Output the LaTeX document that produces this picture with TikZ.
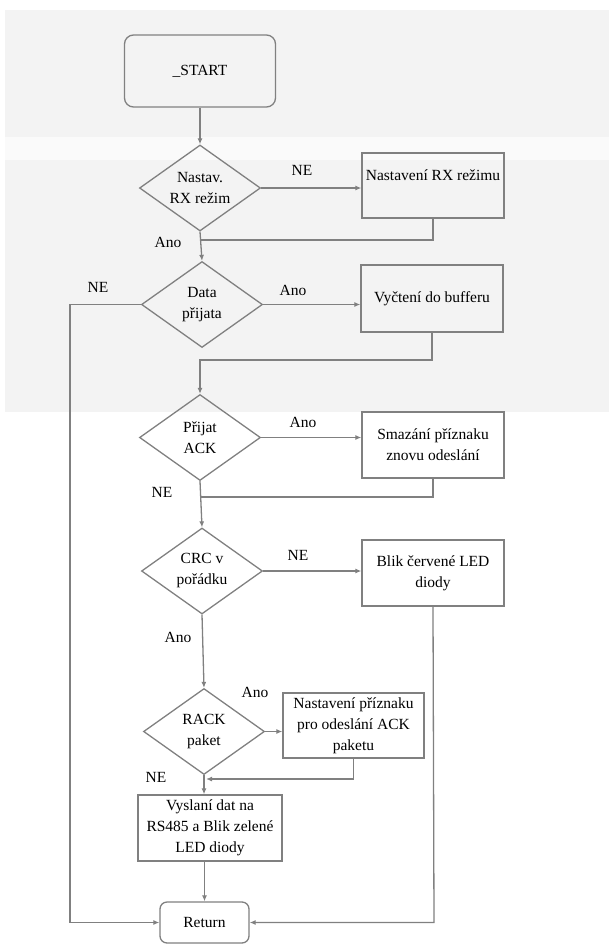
\documentclass[tikz,border=0pt]{standalone}
\usepackage{fontspec}
\setmainfont{Liberation Serif}
\usetikzlibrary{arrows.meta,shapes.geometric}
\definecolor{linegray}{RGB}{128,128,128}
\definecolor{bandgray}{RGB}{243,243,243}
\definecolor{stripgray}{RGB}{250,250,250}
\tikzset{
  txt/.style={font=\fontsize{15.5}{21}\selectfont, text=black},
  startbox/.style={txt, draw=linegray, line width=1.3pt, rounded corners=9pt, minimum width=151pt, minimum height=72pt},
  decision/.style={txt, draw=linegray, line width=1.3pt, diamond, aspect=1.4, inner sep=0pt, minimum width=121pt, minimum height=86pt, align=center},
  process/.style={txt, draw=linegray, line width=1.3pt, minimum width=142pt, minimum height=66pt, inner sep=0.5pt, align=center},
  lbl/.style={txt},
  flow/.style={draw=linegray, line width=1.3pt},
  arr/.style={flow, -{Latex[length=6pt,width=5pt]}}
}

\begin{document}
\begin{tikzpicture}[x=1pt,y=-1pt]
		%%%%% BACKGROUND %%%%%
		\useasboundingbox (0,0) rectangle (609,945);
		\fill[bandgray] (5,10) rectangle (609,412);
		\fill[stripgray] (5,137) rectangle (609,160);
		
		%%%%% NODES %%%%%
		\node[startbox] (start) at (200,71) {\_START};
		
		\node[decision] (rxset) at (200,188) {Nastav.\\RX režim};
		\node[process, minimum height=65pt] (rxmode) at (433,185.5) {Nastavení RX režimu\\\mbox{}};
		
		\node[decision] (datarx) at (202,304.5) {Data\\přijata};
		\node[process, minimum height=67pt] (buffer) at (432,298.5) {Vyčtení do bufferu};
		
		\node[decision] (ackrx) at (200,437.5) {Přijat\\ACK};
		\node[process] (clrflag) at (433,445) {Smazání příznaku\\znovu odeslání};
		
		\node[decision] (crcok) at (202,571) {CRC v\\pořádku};
		\node[process] (redled) at (433,573) {Blik červené LED\\diody};
		
		\node[decision] (rack) at (204,731.5) {RACK\\paket};
		\node[process, minimum width=141pt, minimum height=65pt] (ackflag) at (353.5,725.5) {Nastavení příznaku\\pro odeslání ACK\\paketu};
		
		\node[process, minimum width=144pt] (send) at (210,828) {Vyslaní dat na\\RS485 a Blik zelené\\LED diody};
		\node[startbox, rounded corners=7pt, minimum width=89pt, minimum height=41pt] (ret) at (204.5,922.5) {Return};
		
		%%%%% JOINTS %%%%%
		\coordinate (j1) at (200,240);
		\coordinate (j2) at (200,360);
		\coordinate (j3) at (200,497);
		\coordinate (j5) at (206,779);
		\coordinate (lft) at (70,922.5);
		\coordinate (rgt) at (434,922.5);
		
		%%%%% CONNECTORS %%%%%
		\draw[arr] (start) -- (rxset);
		\draw[arr] (rxset.east) -- (rxset.east -| rxmode.west);
		\draw[flow] (rxmode.south) |- (j1);
		\draw[arr] (rxset.south) -- (datarx.north);
		
		\draw[arr] (datarx.east) -- (datarx.east -| buffer.west);
		\draw[arr] (datarx.west) -| (lft) -- (ret.west);
		\draw[arr] (buffer.south) |- (j2) -- (ackrx.north);
		
		\draw[arr] (ackrx.east) -- (ackrx.east -| clrflag.west);
		\draw[flow] (clrflag.south) |- (j3);
		\draw[arr] (ackrx.south) -- (crcok.north);
		
		\draw[arr] (crcok.east) -- (crcok.east -| redled.west);
		\draw[arr] (redled.south) -- (rgt) -- (ret.east);
		\draw[arr] (crcok.south) -- (rack.north);
		
		\draw[arr] (rack.east) -- (rack.east -| ackflag.west);
		\draw[arr] (ackflag.south) |- (j5);
		\draw[arr] (rack.south) -- (rack.south |- send.north);
		\draw[arr] (send.south -| ret.north) -- (ret.north);
		
		%%%%% LABELS %%%%%
		\node[lbl] (ne1) at (302,170) {NE};
		\node[lbl] (ano1) at (168,242) {Ano};
		\node[lbl] (ne2) at (98,287) {NE};
		\node[lbl] (ano2) at (293,290) {Ano};
		\node[lbl] (ano3) at (303,422) {Ano};
		\node[lbl] (ne3) at (162,492) {NE};
		\node[lbl] (ne4) at (298,555) {NE};
		\node[lbl] (ano4) at (178,637) {Ano};
		\node[lbl] (ano5) at (255,692) {Ano};
		\node[lbl] (ne5) at (156,777) {NE};
	\end{tikzpicture}
\end{document}
